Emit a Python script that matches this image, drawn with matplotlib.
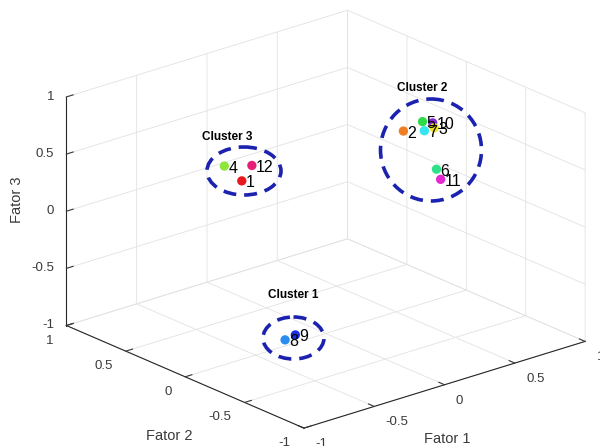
import numpy as np
import matplotlib
matplotlib.use('Agg')
import matplotlib.pyplot as plt
from matplotlib import transforms as mtrans
from matplotlib.patches import Ellipse
from mpl_toolkits.mplot3d import proj3d

plt.rcParams['font.family'] = ['Liberation Sans', 'DejaVu Sans']
plt.rcParams['axes.unicode_minus'] = False
plt.rcParams['grid.color'] = '#e2e2e2'
plt.rcParams['grid.linewidth'] = 0.6

# ---------------- data ----------------
point_labels = ['1', '2', '3', '4', '5', '6', '7', '8', '9', '10', '11', '12']
fator1 = [-0.31, 0.51, 0.67, -0.24, 0.68, 0.61, 0.60, -0.45, -0.36, 0.71, 0.53, -0.12]
fator2 = [0.34, -0.05, -0.12, 0.57, -0.01, -0.21, -0.12, -0.19, -0.17, -0.06, -0.34, 0.48]
fator3 = [0.30, 0.60, 0.60, 0.30, 0.60, 0.30, 0.60, -0.80, -0.80, 0.60, 0.30, 0.30]
point_colors = ['#e8191e', '#f07d22', '#f2e21e', '#8ee63c', '#2ed94a', '#2ee08a',
                '#35e6f0', '#2a8cf0', '#1a2ee6', '#8228d2', '#e628d2', '#e61e78']
cluster_names = ['Cluster 1', 'Cluster 2', 'Cluster 3']
tick_values = [-1, -0.5, 0, 0.5, 1]
tick_labels = ['-1', '-0.5', '0', '0.5', '1']
axis_titles = ['Fator 1', 'Fator 2', 'Fator 3']

W_PX, H_PX = 600, 446
fig = plt.figure(figsize=(W_PX / 100, H_PX / 100), dpi=100)
fig.patch.set_facecolor('white')
ax = fig.add_axes([0.0, 0.0, 1.0, 1.0], projection='3d')
ax.set_facecolor('white')
ax.set_proj_type('ortho')
ax.view_init(elev=21.4, azim=-130.2)
ax.set_box_aspect((1, 1, 0.667))
ax.set_xlim(-1, 1)
ax.set_ylim(-1, 1)
ax.set_zlim(-1, 1)
ax.set_xticks(tick_values)
ax.set_yticks(tick_values)
ax.set_zticks(tick_values)
ax.set_xticklabels(tick_labels)
ax.set_yticklabels(tick_labels)
ax.set_zticklabels(tick_labels)

txt_col = '#3a3a3a'
for axis in (ax.xaxis, ax.yaxis, ax.zaxis):
    axis.set_pane_color((1, 1, 1, 0))
    axis.pane.set_edgecolor('#dadada')
    axis.line.set_color('#262626')
    axis.line.set_linewidth(0.8)
    axis._axinfo['grid'].update(color='#e2e2e2', linewidth=0.6)
    axis._axinfo['tick'].update(inward_factor=0.0, outward_factor=0.3)
ax.tick_params(axis='both', colors=txt_col, labelsize=9.5)
ax.tick_params(axis='x', pad=2)
ax.tick_params(axis='y', pad=2)
ax.tick_params(axis='z', pad=-3)

for t in ax.xaxis.get_major_ticks():
    t.label1.set_horizontalalignment('left')
    t.label1.set_verticalalignment('center')
for t in ax.yaxis.get_major_ticks():
    t.label1.set_horizontalalignment('right')
    t.label1.set_verticalalignment('center')
for t in ax.zaxis.get_major_ticks():
    t.label1.set_horizontalalignment('right')
    t.label1.set_verticalalignment('center')

ax.set_xlabel('')
ax.set_ylabel('')
ax.set_zlabel('')

ax.computed_zorder = False
ax.scatter(fator1, fator2, fator3, c=point_colors, s=45, depthshade=False,
           edgecolors='none', zorder=5)
lab_tr = mtrans.offset_copy(ax.transData, fig=fig, x=4, y=-2, units='dots')
for xv, yv, zv, lab in zip(fator1, fator2, fator3, point_labels):
    ax.text(xv, yv, zv, lab, fontsize=11.5, color='black', ha='left', va='center',
            transform=lab_tr, zorder=6)

# ---- fit axes placement so box corners land where the reference has them ----
fig.canvas.draw()
corner_world = np.array([[-1, -1, -1], [-1, 1, -1], [1, -1, -1], [1, 1, -1],
                         [-1, 1, 1], [1, 1, 1]], float)
corner_target = np.array([[303, 428], [65, 325], [585, 341], [349, 240],
                          [67, 95], [348, 12]], float)
M = ax.get_proj()
pxs, pys, _ = proj3d.proj_transform(corner_world[:, 0], corner_world[:, 1],
                                    corner_world[:, 2], M)
disp = ax.transData.transform(np.column_stack([pxs, pys]))
bb = ax.get_position().transformed(fig.transFigure)
u = (disp[:, 0] - bb.x0) / bb.width
v = (disp[:, 1] - bb.y0) / bb.height
rows, rhs = [], []
for i in range(len(u)):
    rows.append([1, 0, u[i]]); rhs.append(corner_target[i, 0])
    rows.append([0, 1, v[i]]); rhs.append(H_PX - corner_target[i, 1])
L, B, S = np.linalg.lstsq(np.array(rows), np.array(rhs), rcond=None)[0]
ax.set_position([L / W_PX, B / H_PX, S / W_PX, S / H_PX])

# ---- figure-pixel transform for annotations ----
pix = mtrans.Affine2D().scale(1 / W_PX, -1 / H_PX).translate(0, 1) + fig.transFigure

# axis titles (horizontal, as in the reference)
fig.text(447, 439, axis_titles[0], transform=pix, fontsize=10.5, color=txt_col,
         ha='center', va='center')
fig.text(169, 436, axis_titles[1], transform=pix, fontsize=10.5, color=txt_col,
         ha='center', va='center')
fig.text(17, 200, axis_titles[2], transform=pix, fontsize=10.5, color=txt_col,
         ha='center', va='center', rotation=90)

# annotation ellipses and cluster names
ell_col = '#1c22b0'
ellipses = [((293.5, 338), 61, 42), ((431, 150), 101, 102), ((244, 171), 74, 48)]
name_pos = [(293, 295), (422, 88), (227, 137)]
for (c, w, h), name, npos in zip(ellipses, cluster_names, name_pos):
    e = Ellipse(c, w, h, transform=pix, fill=False, edgecolor=ell_col, lw=2.6,
                linestyle=(0, (3.6, 2.2)))
    fig.add_artist(e)
    fig.text(npos[0], npos[1], name, transform=pix, fontsize=8.5, fontweight='bold',
             ha='center', va='center', color='black')

fig.savefig('out.png', dpi=100, facecolor='white')
